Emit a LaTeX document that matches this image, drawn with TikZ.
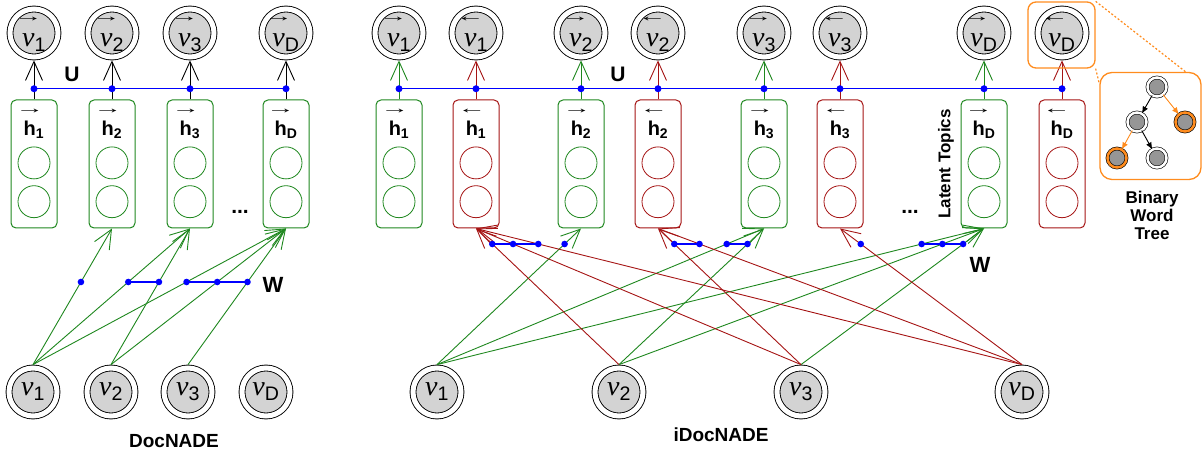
\documentclass[tikz,border=0pt]{standalone}
\usepackage{amsmath}
\usepackage{graphicx}
\usepackage{fontspec}
\setmainfont{Liberation Sans}
\newfontfamily\nufont{Liberation Serif}
\usetikzlibrary{arrows.meta,positioning}
\definecolor{topicgreen}{RGB}{30,135,30}
\definecolor{topicred}{RGB}{165,20,20}
\definecolor{treeorange}{RGB}{255,140,30}
\definecolor{nodegray}{RGB}{211,211,211}
\definecolor{leafgray}{RGB}{150,150,150}
\newcommand{\nuv}{\text{\nufont\itshape ν}}
\newcommand{\rarr}[1][4pt]{\text{\normalfont\fontsize{15}{15}\selectfont\makebox[0pt]{\raisebox{#1}{\scalebox{1.9}[1]{→}}}}}
\newcommand{\larr}[1][4pt]{\text{\normalfont\fontsize{15}{15}\selectfont\makebox[0pt]{\raisebox{#1}{\scalebox{1.9}[1]{←}}}}}
\tikzset{
	vnode/.style={circle, draw, line width=0.9pt, fill=nodegray, double, double distance=5pt,
		minimum size=48pt, inner sep=0pt, outer sep=3.4pt, font=\fontsize{28}{30}\selectfont},
	hbox/.style={draw, line width=1pt, rounded corners=5pt, minimum width=46pt, minimum height=128pt},
	unit/.style={circle, draw, line width=0.8pt, minimum size=32pt, inner sep=0pt},
	hlabel/.style={inner sep=0pt, font=\fontsize{20}{22}\selectfont\bfseries},
	barb/.style={line width=0.9pt, -{Straight Barb[length=19pt,width=17pt]}},
	gedge/.style={barb, topicgreen},
	redge/.style={barb, topicred},
	wline/.style={blue, line width=1.2pt},
	lab/.style={font=\fontsize{21}{22}\selectfont\bfseries},
	title/.style={font=\fontsize{19}{20}\selectfont\bfseries},
	tnode/.style={circle, draw, line width=0.6pt, fill=leafgray, double=white, double distance=2.5pt,
		minimum size=19pt, inner sep=0pt},
	onode/.style={tnode, double=treeorange},
	tarr/.style={line width=0.9pt, -{Latex[length=7pt,width=6pt]}}
}
\begin{document}
\begin{tikzpicture}[x=1pt,y=1pt]
	\useasboundingbox (0,0) rectangle (1203,452);
	% output words, hidden layers and U
	\foreach \x/\n/\i/\dir/\bcol/\acol in {34/d1/1/\rarr/topicgreen/black, 112/d2/2/\rarr/topicgreen/black,
		190/d3/3/\rarr/topicgreen/black, 286/dD/D/\rarr/topicgreen/black,
		399/f1/1/\rarr/topicgreen/topicgreen, 476/b1/1/\larr/topicred/topicred,
		581/f2/2/\rarr/topicgreen/topicgreen, 658/b2/2/\larr/topicred/topicred,
		764/f3/3/\rarr/topicgreen/topicgreen, 840/b3/3/\larr/topicred/topicred,
		984/fD/D/\rarr/topicgreen/topicgreen, 1062/bD/D/\larr/topicred/topicred}{
		\node[vnode] (v\n) at (\x,419) {${\overset{\dir[7pt]}{\nuv}}_{\text{\i}}$};
		\node[hbox, draw=\bcol] (h\n) at (\x,288) {};
		\node[hlabel, below=7pt of h\n.north] (l\n) {${\overset{\dir}{\textbf{h}}}_{\textbf{\i}}$};
		\node[unit, draw=\bcol, below=47pt of h\n.north] (ua\n) {};
		\node[unit, draw=\bcol, below=6pt of ua\n] (ub\n) {};
		\draw[barb, \acol] (h\n.north) -- coordinate[pos=.275] (u\n) (v\n.south);
	}
	\draw[wline] (ud1) -- (udD);
	\draw[wline] (uf1) -- (ubD);
	\foreach \n in {d1,d2,d3,dD,f1,b1,f2,b2,f3,b3,fD,bD}
		\fill[blue] (u\n) circle (3.5pt);
	% input words
	\foreach \x/\n/\i in {33/d1/1, 111/d2/2, 188/d3/3, 266/dD/D, 437/i1/1, 619/i2/2, 801/i3/3, 1022/iD/D}
		\node[vnode] (x\n) at (\x,60) {$\nuv_{\text{\i}}$};
	% W connections
	\foreach \s/\t in {d1/d2, d1/d3, d1/dD, d2/d3, d2/dD, d3/dD}
		\draw[gedge] (x\s.north) -- coordinate[pos=.607] (w\s\t) (h\t.south);
	\foreach \s/\t in {i1/f2, i1/f3, i1/fD, i2/f3, i2/fD, i3/fD}
		\draw[gedge] (x\s.north) -- coordinate[pos=.886] (w\s\t) (h\t.south);
	\foreach \s/\t in {i2/b1, i3/b1, iD/b1, i3/b2, iD/b2, iD/b3}
		\draw[redge] (x\s.north) -- coordinate[pos=.886] (w\s\t) (h\t.south);
	\draw[wline] (wd1d3) -- (wd2d3);
	\draw[wline] (wd1dD) -- (wd3dD);
	\draw[wline] (wi2b1) -- (wiDb1);
	\draw[wline] (wi3b2) -- (wiDb2);
	\draw[wline] (wi1f3) -- (wi2f3);
	\draw[wline] (wi1fD) -- (wi3fD);
	\foreach \w in {d1d2, d1d3, d1dD, d2d3, d2dD, d3dD, i1f2, i1f3, i1fD, i2f3, i2fD, i3fD,
		i2b1, i3b1, iDb1, i3b2, iDb2, iDb3}
		\fill[blue] (w\w) circle (3.3pt);
	% labels
	\node[lab] (uL) at (72,378) {U};
	\node[lab] (uR) at (618,378) {U};
	\node[lab, font=\fontsize{22}{24}\selectfont\bfseries] (wL) at (273,167) {W};
	\node[lab, font=\fontsize{22}{24}\selectfont\bfseries] (wR) at (980,187) {W};
	\node[lab] (dotsL) at (240,240) {...};
	\node[lab] (dotsR) at (910,240) {...};
	\node[rotate=90, font=\fontsize{17}{18}\selectfont\bfseries] (topics) at (946,288) {Latent Topics};
	\node[title] (docnade) at (174,11) {DocNADE};
	\node[title] (idocnade) at (721,17) {iDocNADE};
	% binary word tree
	\node[draw=treeorange, line width=1.3pt, rounded corners=8pt, minimum width=67pt, minimum height=66pt] (zoomb) at (1061.5,417) {};
	\node[draw=treeorange, line width=1.3pt, rounded corners=12pt, minimum width=101pt, minimum height=107pt] (tree) at (1150.5,326) {};
	\draw[treeorange, line width=1.2pt, dash pattern=on 2pt off 2pt] (zoomb.north east) -- ([xshift=-16pt]tree.north east);
	\draw[treeorange, line width=1.2pt, dash pattern=on 2pt off 2pt] (zoomb.south east) -- ([yshift=-12pt]tree.north west);
	\node[tnode] (t0) at (1157,365) {};
	\node[tnode] (t1) at (1137,330) {};
	\node[onode] (t2) at (1185,330) {};
	\node[onode] (t3) at (1117,294) {};
	\node[tnode] (t4) at (1157,294) {};
	\draw[tarr] (t0) -- (t1);
	\draw[tarr, treeorange] (t0) -- (t2);
	\draw[tarr, treeorange] (t1) -- (t3);
	\draw[tarr] (t1) -- (t4);
	\node[align=center, font=\fontsize{17}{18}\selectfont\bfseries] (bwt) at (1152,237) {Binary\\Word\\Tree};
\end{tikzpicture}
\end{document}
